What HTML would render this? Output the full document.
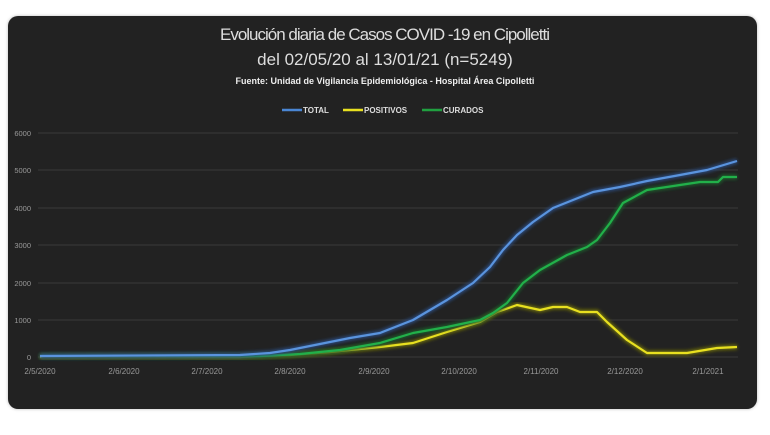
<!DOCTYPE html>
<html><head><meta charset="utf-8"><style>
body{margin:0;background:#fff;width:770px;height:435px;overflow:hidden;font-family:"Liberation Sans",sans-serif;}
.panel{position:absolute;left:8px;top:16px;width:749px;height:393px;background:#222;border-radius:10px;box-shadow:0 0 3px #bbb;}
</style></head><body>
<div class="panel"></div>
<svg width="770" height="435" style="position:absolute;left:0;top:0">
<defs><filter id="g" x="-5%" y="-5%" width="110%" height="110%"><feGaussianBlur stdDeviation="1.5"/></filter></defs>
<g font-family="Liberation Sans, sans-serif" text-anchor="middle">
<text x="385" y="40" fill="#ddd" font-size="17" textLength="330">Evolución diaria de Casos COVID -19 en Cipolletti</text>
<text x="385" y="65" fill="#ddd" font-size="17">del 02/05/20 al 13/01/21  (n=5249)</text>
<text x="385" y="84" fill="#eee" font-size="9" font-weight="bold">Fuente: Unidad de Vigilancia Epidemiológica - Hospital Área Cipolletti</text>
</g>
<g font-size="8" font-weight="bold" fill="#ddd" font-family="Liberation Sans, sans-serif">
<line x1="282" y1="110" x2="302" y2="110" stroke="#4a86d4" stroke-width="2.5"/><text x="303" y="113">TOTAL</text>
<line x1="343" y1="110" x2="363" y2="110" stroke="#e8e020" stroke-width="2.5"/><text x="364" y="113">POSITIVOS</text>
<line x1="422" y1="110" x2="442" y2="110" stroke="#20a040" stroke-width="2.5"/><text x="443" y="113">CURADOS</text>
</g>
<g stroke="#3a3a3a" stroke-width="1">
<line x1="38" x2="738" y1="133" y2="133"/><line x1="38" x2="738" y1="170" y2="170"/><line x1="38" x2="738" y1="208" y2="208"/><line x1="38" x2="738" y1="245" y2="245"/><line x1="38" x2="738" y1="283" y2="283"/><line x1="38" x2="738" y1="320" y2="320"/><line x1="38" x2="738" y1="357" y2="357"/>
</g>
<g font-size="7.5" fill="#999" text-anchor="end" font-family="Liberation Sans, sans-serif">
<text x="31" y="136">6000</text><text x="31" y="173">5000</text><text x="31" y="211">4000</text><text x="31" y="248">3000</text><text x="31" y="286">2000</text><text x="31" y="323">1000</text><text x="31" y="360">0</text>
</g>
<g font-size="8" fill="#999" text-anchor="middle" font-family="Liberation Sans, sans-serif">
<text x="40" y="374">2/5/2020</text><text x="124" y="374">2/6/2020</text><text x="207" y="374">2/7/2020</text><text x="290" y="374">2/8/2020</text><text x="374" y="374">2/9/2020</text><text x="459" y="374">2/10/2020</text><text x="541" y="374">2/11/2020</text><text x="625" y="374">2/12/2020</text><text x="708" y="374">2/1/2021</text>
</g>
<g fill="none" stroke-linejoin="round">
<polyline id="y" filter="url(#g)" stroke="#6a6a10" stroke-width="5" points="40,357 240,357 290,355 330,352 380,347 413,343 447,332 480,322 497,312 517,305 540,310 553,307 567,307 580,312 597,312 607,322 627,340 647,353 687,353 717,348 737,347"/>
<polyline stroke="#e8e020" stroke-width="2.2" points="40,357 240,357 290,355 330,352 380,347 413,343 447,332 480,322 497,312 517,305 540,310 553,307 567,307 580,312 597,312 607,322 627,340 647,353 687,353 717,348 737,347"/>
<polyline filter="url(#g)" stroke="#1a5a2a" stroke-width="5" points="40,356 260,356 300,354 340,350 380,343 413,333 447,327 480,320 493,313 507,303 523,283 540,270 567,255 587,247 597,240 610,223 623,203 647,190 680,185 700,182 718,182 723,177 737,177"/>
<polyline stroke="#22b04a" stroke-width="2.2" points="40,356 260,356 300,354 340,350 380,343 413,333 447,327 480,320 493,313 507,303 523,283 540,270 567,255 587,247 597,240 610,223 623,203 647,190 680,185 700,182 718,182 723,177 737,177"/>
<polyline filter="url(#g)" stroke="#2a4a7a" stroke-width="5" points="40,356 240,355 270,353 290,350 320,344 350,338 380,333 413,320 447,300 473,283 490,267 503,250 517,235 533,222 553,208 573,200 593,192 620,187 647,181 680,175 707,170 737,161"/>
<polyline stroke="#5a94de" stroke-width="2.2" points="40,356 240,355 270,353 290,350 320,344 350,338 380,333 413,320 447,300 473,283 490,267 503,250 517,235 533,222 553,208 573,200 593,192 620,187 647,181 680,175 707,170 737,161"/>
</g>
</svg>
</body></html>
